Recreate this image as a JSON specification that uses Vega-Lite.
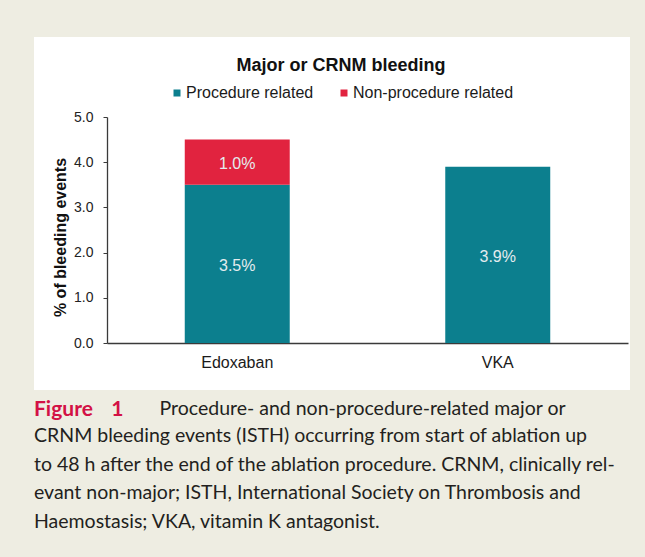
{
  "$schema": "https://vega.github.io/schema/vega-lite/v6.json",
  "width": 596,
  "height": 353,
  "autosize": {"type": "none"},
  "padding": {"left": 34, "top": 37, "right": 15, "bottom": 167},
  "background": "#eeede2",
  "config": {"view": {"fill": "white", "stroke": null}, "font": "Liberation Sans"},
  "data": {"values": [
    {"drug": "Edoxaban", "type": "Procedure related", "value": 3.5, "label": "3.5%"},
    {"drug": "Edoxaban", "type": "Non-procedure related", "value": 1.0, "label": "1.0%"},
    {"drug": "VKA", "type": "Procedure related", "value": 3.9, "label": "3.9%"}
  ]},
  "title": {
    "text": "Figure\u2003\u20091",
    "orient": "bottom",
    "anchor": "start",
    "frame": "group",
    "offset": -19,
    "font": "Lato",
    "fontSize": 21,
    "fontWeight": "bold",
    "color": "#d31145",
    "subtitle": [
      "CRNM bleeding events (ISTH) occurring from start of ablation up",
      "to 48 h after the end of the ablation procedure. CRNM, clinically rel-",
      "evant non-major; ISTH, International Society on Thrombosis and",
      "Haemostasis; VKA, vitamin K antagonist."
    ],
    "subtitleFont": "Lato",
    "subtitleFontSize": 19.5,
    "subtitleColor": "#231f20",
    "subtitleLineHeight": 28.5,
    "subtitlePadding": 7.5
  },
  "encoding": {
    "x": {
      "field": "drug", "type": "nominal", "sort": ["Edoxaban", "VKA"],
      "title": "Procedure- and non-procedure-related major or",
      "scale": {"range": [73, 594], "paddingInner": 0.597, "paddingOuter": 0.2985},
      "axis": {"orient": "bottom", "offset": -47, "labelAngle": 0, "labelFontSize": 16, "labelColor": "#1a1a1a", "labelPadding": 11, "ticks": false, "tickSize": 0, "domainColor": "#3a3a3a", "domainWidth": 1.3,
        "titleFont": "Lato", "titleFontSize": 19.5, "titleFontWeight": "normal", "titleColor": "#231f20", "titleX": 125, "titleY": 71, "titleAlign": "left", "titleBaseline": "alphabetic", "titleLimit": 600}
    },
    "y": {
      "field": "value", "type": "quantitative", "stack": "zero",
      "scale": {"domain": [0, 5], "range": [306, 80], "nice": false},
      "axis": {"title": "% of bleeding events", "orient": "left", "offset": -73, "values": [0, 1, 2, 3, 4, 5], "format": ".1f", "labelFontSize": 14, "labelColor": "#222222", "labelPadding": 10, "tickSize": 4, "tickColor": "#3a3a3a", "domainColor": "#3a3a3a", "domainWidth": 1.3, "grid": false, "titleFontSize": 16, "titleFontWeight": "bold", "titleColor": "#111111", "titlePadding": 5, "titleY": 200}
    },
    "order": {"field": "type", "sort": "descending"}
  },
  "layer": [
    {
      "mark": {"type": "bar"},
      "encoding": {
        "color": {
          "field": "type", "type": "nominal", "sort": ["Procedure related", "Non-procedure related"],
          "scale": {"domain": ["Procedure related", "Non-procedure related"], "range": ["#0c7f8e", "#e1233f"]},
          "legend": {"title": "Major or CRNM bleeding", "orient": "none", "legendX": 135, "legendY": 20, "direction": "horizontal", "titleAnchor": "middle", "titleFontSize": 18, "titleFontWeight": "bold", "titleColor": "#111111", "titlePadding": 10, "titleLimit": 400, "labelFontSize": 16, "labelColor": "#1a1a1a", "labelLimit": 300, "symbolType": "square", "symbolSize": 49, "symbolStrokeWidth": 0, "columnPadding": 22, "labelOffset": 1}
        }
      }
    },
    {
      "mark": {"type": "text", "fontSize": 16, "color": "#e4ecee", "baseline": "middle", "dy": 2},
      "encoding": {
        "y": {
          "field": "value", "type": "quantitative", "stack": "zero", "bandPosition": 0.5
        },
        "detail": {"field": "type"},
        "text": {"field": "label"}
      }
    }
  ]
}
